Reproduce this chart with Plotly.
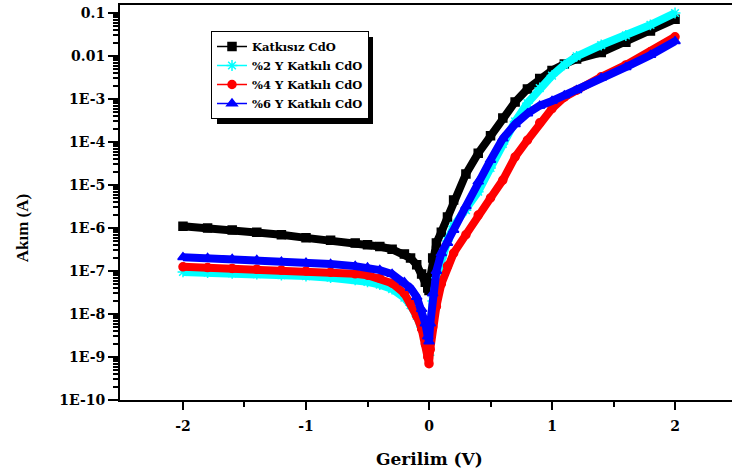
import plotly.graph_objects as go

# ---- data ----
voltage = [-2.0, -1.8, -1.6, -1.4, -1.2, -1.0, -0.8, -0.6, -0.5, -0.4, -0.3, -0.2, -0.15, -0.1,
           -0.06, -0.03, -0.01, 0.0, 0.01, 0.03, 0.06, 0.1, 0.15, 0.2, 0.3, 0.4, 0.5, 0.6, 0.7,
           0.8, 0.9, 1.0, 1.1, 1.2, 1.4, 1.6, 1.8, 2.0]

katkisiz = [1.1e-6, 1.0e-6, 9.0e-7, 8.0e-7, 7.0e-7, 5.9e-7, 5.2e-7, 4.5e-7, 4.1e-7, 3.7e-7, 3.2e-7,
            2.5e-7, 2.0e-7, 1.4e-7, 8.5e-8, 5.5e-8, 4.0e-8, 3.5e-8, 7e-8, 2e-7, 4.5e-7, 8e-7,
            1.8e-6, 4.5e-6, 1.8e-5, 5.5e-5, 1.4e-4, 3.6e-4, 8.5e-4, 1.7e-3, 3.0e-3, 4.6e-3, 6.5e-3,
            8.5e-3, 1.2e-2, 2.1e-2, 3.8e-2, 7.2e-2]

y_katkili_2 = [9.5e-8, 9.2e-8, 8.8e-8, 8.5e-8, 8.0e-8, 7.6e-8, 7.0e-8, 6.2e-8, 5.6e-8, 4.8e-8, 3.8e-8,
               2.4e-8, 1.6e-8, 9e-9, 5e-9, 2.6e-9, 1.5e-9, 1.1e-9, 3e-9, 2e-8, 7e-8, 2e-7, 5e-7,
               1.1e-6, 2.6e-6, 7e-6, 2.5e-5, 9e-5, 3e-4, 8e-4, 1.8e-3, 3.5e-3, 6.2e-3, 9.8e-3,
               1.8e-2, 3.0e-2, 5.3e-2, 1.0e-1]

y_katkili_4 = [1.25e-7, 1.2e-7, 1.15e-7, 1.1e-7, 1.05e-7, 1.0e-7, 9.4e-8, 8.6e-8, 8e-8, 6.8e-8, 5.2e-8,
               3e-8, 1.8e-8, 9e-9, 4.5e-9, 2e-9, 1e-9, 7e-10, 1.5e-9, 5e-9, 1.5e-8, 5e-8, 1.3e-7,
               2.6e-7, 7e-7, 2e-6, 5e-6, 1.3e-5, 4.5e-5, 1.1e-4, 2.8e-4, 6e-4, 1.1e-3, 1.6e-3,
               3.3e-3, 6.2e-3, 1.25e-2, 2.8e-2]

y_katkili_6 = [2.1e-7, 2.0e-7, 1.9e-7, 1.8e-7, 1.65e-7, 1.55e-7, 1.45e-7, 1.3e-7, 1.2e-7, 1.05e-7, 8.5e-8,
               5.5e-8, 4e-8, 2.5e-8, 1.3e-8, 6e-9, 3e-9, 2.3e-9, 6e-9, 3e-8, 1e-7, 2.6e-7, 4.5e-7,
               9e-7, 3.2e-6, 1.2e-5, 3.8e-5, 1.2e-4, 2.6e-4, 4.6e-4, 7e-4, 9e-4, 1.2e-3, 1.6e-3,
               3.1e-3, 5.5e-3, 1.05e-2, 2.2e-2]

series_names = ["Katkısız CdO", "%2 Y Katkılı CdO", "%4 Y Katkılı CdO", "%6 Y Katkılı CdO"]
series_values = [katkisiz, y_katkili_2, y_katkili_4, y_katkili_6]

y_tick_vals = [1e-10, 1e-9, 1e-8, 1e-7, 1e-6, 1e-5, 1e-4, 1e-3, 1e-2, 1e-1]
y_tick_text = ["1E-10", "1E-9", "1E-8", "1E-7", "1E-6", "1E-5", "1E-4", "1E-3", "0.01", "0.1"]
x_tick_vals = [-2, -1, 0, 1, 2]
x_tick_text = ["-2", "-1", "0", "1", "2"]

# ---- styles ----
colors = ["#000000", "#00FFFF", "#FF0000", "#0000FF"]
symbols = ["square", "asterisk-open", "circle", "triangle-up"]
msizes = [8, 9, 8, 9]

fig = go.Figure()
for name, vals, c, s, ms in zip(series_names, series_values, colors, symbols, msizes):
    fig.add_trace(go.Scatter(x=voltage, y=vals, mode="lines", line=dict(color=c, width=8),
                             showlegend=False, hoverinfo="skip", legendgroup=name))
    fig.add_trace(go.Scatter(x=voltage, y=vals, mode="lines+markers", name=name, legendgroup=name,
                             line=dict(color=c, width=1.5),
                             marker=dict(symbol=s, size=ms, color=c, line=dict(color=c, width=1.5))))

minor_y = [k * 10.0 ** n for n in range(-10, 0) for k in range(2, 10)]

# legend box geometry (pixels in the 732x473 page; plot area spans x 120..732, y 5..400)
leg_left, leg_top, leg_w, leg_h, shadow = 211, 31, 156, 87, 6


def px_x(p):
    return (p - 120) / 612


def px_y(p):
    return (400 - p) / 395


serif_h = "DejaVu Serif"
fig.update_layout(
    width=732, height=473,
    margin=dict(l=120, r=0, t=5, b=73),
    paper_bgcolor="white", plot_bgcolor="white",
    showlegend=True,
    legend=dict(x=px_x(leg_left), y=px_y(leg_top), xanchor="left", yanchor="top", bgcolor="white",
                bordercolor="black", borderwidth=1, tracegroupgap=0,
                font=dict(family=serif_h, size=11.5, color="black", weight="bold")),
    xaxis=dict(range=[-2.512, 2.463], tickvals=x_tick_vals, ticktext=x_tick_text,
               ticks="outside", ticklen=8, tickwidth=2, tickcolor="black",
               showline=True, linewidth=2, linecolor="black", mirror=True,
               showgrid=False, zeroline=False, ticklabelstandoff=4,
               tickfont=dict(family=serif_h, size=14, color="black", weight="bold"),
               minor=dict(tickvals=[-1.5, -0.5, 0.5, 1.5], ticks="outside", ticklen=5,
                          tickwidth=2, tickcolor="black", showgrid=False)),
    yaxis=dict(type="log", range=[-10, -0.814], tickvals=y_tick_vals, ticktext=y_tick_text,
               ticks="outside", ticklen=10, tickwidth=2, tickcolor="black",
               showline=True, linewidth=2, linecolor="black", mirror=False,
               showgrid=False, zeroline=False,
               tickfont=dict(family=serif_h, size=14, color="black", weight="bold"),
               minor=dict(tickvals=minor_y, ticks="outside", ticklen=5, tickwidth=1.5,
                          tickcolor="black", showgrid=False)),
    annotations=[
        dict(text="Gerilim (V)", xref="x", yref="paper", x=0, y=-0.149, showarrow=False,
             xanchor="center", yanchor="middle",
             font=dict(family=serif_h, size=17, color="black", weight="bold")),
        dict(text="Akım (A)", xref="paper", yref="paper", x=-0.160, y=0.435, showarrow=False,
             textangle=-90, xanchor="center", yanchor="middle",
             font=dict(family="Liberation Serif", size=17, color="black", weight="bold")),
    ],
    shapes=[dict(type="rect", xref="paper", yref="paper",
                 x0=px_x(leg_left + shadow), x1=px_x(leg_left + leg_w + shadow),
                 y0=px_y(leg_top + leg_h + shadow), y1=px_y(leg_top + shadow),
                 fillcolor="black", line=dict(width=0), layer="above")],
)

fig.write_html("out.html")
